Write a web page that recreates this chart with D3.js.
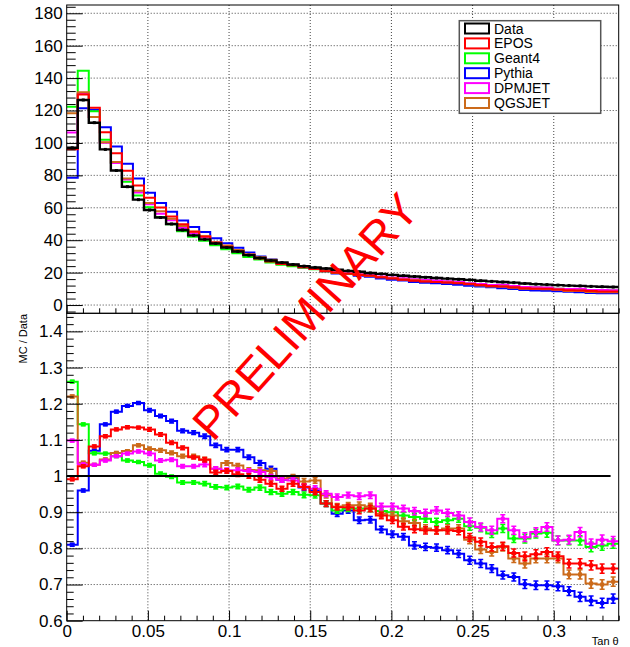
<!DOCTYPE html>
<html>
<head>
<meta charset="utf-8">
<script src="https://cdn.jsdelivr.net/npm/d3@7"></script>
<style>
  body { margin: 0; background: #fff; }
  svg { display: block; }
  text { font-family: "Liberation Sans", Arial, Helvetica, sans-serif; }
</style>
</head>
<body>
<div id="chart"></div>
<script>
// Binning: 50 bins between 0 and 0.34
const BIN_WIDTH = 0.0068;
const N_BINS = 50;

// Top panel: counts per bin
const dataTop = [97,126.5,112.5,96,83,73,65,58.6,54,50,46.3,43,40.5,38,35.5,33,30.8,29,27.5,26.2,25,24,23.2,22.5,21.8,21.1,20.5,19.8,19.2,18.6,18.1,17.6,17.1,16.7,16.3,15.9,15.5,15.0,14.6,14.2,13.8,13.3,12.9,12.6,12.3,12.0,11.8,11.5,11.3,11.1];
const eposTop = [96.1,129.9,121.7,106.6,93.7,82.9,73.7,66.2,60.2,54.6,49.9,45.2,42.3,38.4,36.0,33.2,30.8,28.7,26.9,25.3,24.5,23.3,22.2,20.8,19.9,19.3,18.6,18.0,17.1,16.3,15.6,15.0,14.5,14.2,13.9,13.5,12.9,12.3,11.7,11.4,10.9,10.3,10.1,10.0,9.6,9.1,8.9,8.7,8.4,8.3];
const geantTop = [122.3,144.6,119.6,102.0,87.6,76.1,67.5,60.4,54.3,49.9,45.5,42.2,39.6,36.9,34.4,32.0,29.6,28.1,26.3,24.9,23.9,22.8,22.0,20.8,19.7,19.2,18.7,18.0,17.3,16.7,16.1,15.6,15.1,14.6,14.3,14.0,13.3,12.9,12.3,12.1,11.4,11.0,10.8,10.6,10.1,9.9,9.7,9.2,9.1,9.0];
const pythiaTop = [78.6,121.4,120.4,109.7,97.8,87.2,78.1,69.3,63.0,57.6,52.1,48.2,45.0,41.2,38.1,35.4,32.4,30.0,28.1,25.9,24.9,23.2,22.3,20.8,19.5,19.1,18.0,17.4,16.4,15.6,15.1,14.2,13.7,13.4,13.0,12.5,11.9,11.4,10.9,10.3,9.9,9.3,9.0,8.8,8.5,8.2,7.9,7.5,7.3,7.3];
const dpmjetTop = [106.5,130.5,116.0,100.1,87.6,77.5,69.4,62.2,56.3,52.3,47.6,44.2,41.8,38.8,36.1,33.5,31.2,29.3,27.4,25.9,24.7,23.3,22.4,21.4,20.5,20.0,19.4,18.8,17.6,17.0,16.5,15.9,15.4,15.1,14.6,14.2,13.5,12.9,12.4,12.5,11.7,11.1,10.9,10.8,10.1,9.9,10.0,9.3,9.3,9.1];
const qgsjetTop = [118.3,131.2,116.0,100.4,88.3,78.0,70.5,63.0,57.8,53.2,48.8,45.4,42.4,38.8,36.8,34.0,31.3,29.5,27.9,26.0,24.9,23.6,22.9,21.3,20.0,19.4,18.8,18.1,17.2,16.6,15.8,15.3,14.6,14.2,13.9,13.6,12.8,12.0,11.5,11.4,10.7,10.1,10.0,9.7,9.5,8.7,8.6,8.1,7.9,7.9];

// Bottom panel: MC / Data
const eposRatio = [0.991,1.027,1.082,1.11,1.129,1.135,1.134,1.129,1.115,1.092,1.078,1.052,1.045,1.01,1.014,1.005,1.0,0.99,0.979,0.965,0.979,0.97,0.956,0.924,0.914,0.914,0.905,0.91,0.891,0.878,0.86,0.853,0.85,0.85,0.85,0.848,0.83,0.818,0.804,0.806,0.787,0.778,0.784,0.79,0.778,0.758,0.758,0.753,0.744,0.744];
const geantRatio = [1.261,1.143,1.063,1.062,1.055,1.043,1.039,1.03,1.006,0.998,0.982,0.982,0.979,0.97,0.968,0.971,0.962,0.968,0.956,0.951,0.956,0.948,0.947,0.924,0.905,0.91,0.91,0.91,0.903,0.9,0.891,0.887,0.882,0.873,0.878,0.882,0.861,0.857,0.841,0.855,0.827,0.827,0.841,0.843,0.822,0.822,0.822,0.804,0.808,0.813];
const pythiaRatio = [0.81,0.96,1.07,1.143,1.178,1.194,1.202,1.182,1.166,1.152,1.125,1.12,1.11,1.085,1.073,1.073,1.052,1.036,1.02,0.99,0.995,0.968,0.96,0.924,0.896,0.905,0.878,0.879,0.852,0.839,0.832,0.808,0.804,0.802,0.795,0.785,0.767,0.758,0.744,0.726,0.721,0.701,0.698,0.698,0.695,0.682,0.666,0.655,0.649,0.661];
const dpmjetRatio = [1.098,1.032,1.031,1.043,1.055,1.062,1.068,1.062,1.043,1.045,1.027,1.027,1.032,1.02,1.016,1.016,1.014,1.011,0.997,0.99,0.988,0.971,0.965,0.951,0.942,0.947,0.944,0.947,0.916,0.916,0.91,0.903,0.898,0.905,0.898,0.891,0.873,0.859,0.85,0.882,0.85,0.831,0.845,0.859,0.822,0.824,0.845,0.813,0.824,0.82];
const qgsjetRatio = [1.22,1.037,1.031,1.046,1.064,1.069,1.085,1.075,1.071,1.064,1.055,1.055,1.046,1.02,1.036,1.029,1.017,1.016,1.014,0.993,0.997,0.985,0.988,0.947,0.916,0.919,0.919,0.916,0.896,0.891,0.875,0.87,0.855,0.85,0.855,0.855,0.824,0.797,0.79,0.804,0.772,0.758,0.772,0.772,0.772,0.728,0.728,0.703,0.7,0.708];
const ratioErr = [0.004,0.004,0.004,0.004,0.004,0.004,0.004,0.005,0.005,0.005,0.005,0.005,0.006,0.006,0.006,0.006,0.006,0.007,0.007,0.007,0.007,0.008,0.008,0.008,0.008,0.008,0.009,0.009,0.009,0.009,0.009,0.010,0.010,0.010,0.010,0.010,0.011,0.011,0.011,0.011,0.011,0.012,0.012,0.012,0.012,0.012,0.013,0.013,0.013,0.013];

// Tick labels
const topYTicks = [0,20,40,60,80,100,120,140,160,180];
const ratioYTicks = [0.6,0.7,0.8,0.9,1.0,1.1,1.2,1.3,1.4];
const xTicks = [0,0.05,0.1,0.15,0.2,0.25,0.3];

// Series (legend order)
const series = [
  { name: 'Data',   color: '#000000', top: dataTop,   ratio: null },
  { name: 'EPOS',   color: '#ff0000', top: eposTop,   ratio: eposRatio },
  { name: 'Geant4', color: '#00ff00', top: geantTop,  ratio: geantRatio },
  { name: 'Pythia', color: '#0000ff', top: pythiaTop, ratio: pythiaRatio },
  { name: 'DPMJET', color: '#ff00ff', top: dpmjetTop, ratio: dpmjetRatio },
  { name: 'QGSJET', color: '#cc6a1a', top: qgsjetTop, ratio: qgsjetRatio }
];

const W = 630, H = 647;
const fLeft = 66.7, fRight = 618.7, fTop = 5, fMid = 313.3, fBottom = 620.7;

let svg = d3.select('#chart').append('svg')
  .attr('width', W).attr('height', H);

let x = d3.scaleLinear().domain([0, 0.34]).range([fLeft, fRight]);
let yTop = d3.scaleLinear().domain([-5.1, 185.1]).range([fMid, fTop]);
let yRat = d3.scaleLinear().domain([0.6, 1.45]).range([fBottom, fMid]);

let edges = d3.range(N_BINS + 1).map(function(i) { return i * BIN_WIDTH; });
let centers = d3.range(N_BINS).map(function(i) { return (i + 0.5) * BIN_WIDTH; });

// clip paths
let defs = svg.append('defs');
defs.append('clipPath').attr('id', 'clipTop').append('rect')
  .attr('x', fLeft).attr('y', fTop).attr('width', fRight - fLeft).attr('height', fMid - fTop);
defs.append('clipPath').attr('id', 'clipRat').append('rect')
  .attr('x', fLeft).attr('y', fMid).attr('width', fRight - fLeft).attr('height', fBottom - fMid);

// grids
function gridLines(g, y, yVals, y0, y1) {
  g.selectAll('.gy').data(yVals).enter().append('line')
    .attr('x1', fLeft).attr('x2', fRight)
    .attr('y1', function(d) { return y(d); }).attr('y2', function(d) { return y(d); })
    .attr('stroke', '#444').attr('stroke-width', 1).attr('stroke-dasharray', '1,2');
  g.selectAll('.gx').data(xTicks.filter(function(d) { return d > 0; })).enter().append('line')
    .attr('x1', function(d) { return x(d); }).attr('x2', function(d) { return x(d); })
    .attr('y1', y0).attr('y2', y1)
    .attr('stroke', '#444').attr('stroke-width', 1).attr('stroke-dasharray', '1,2');
}
gridLines(svg.append('g'), yTop, topYTicks, fTop, fMid);
gridLines(svg.append('g'), yRat, ratioYTicks.filter(function(d) { return d > 0.6 && d !== 1.0; }), fMid, fBottom);

// step line generator
function stepPath(y, vals) {
  let pts = vals.map(function(v, i) { return [edges[i], v]; });
  pts.push([edges[N_BINS], vals[N_BINS - 1]]);
  return d3.line()
    .x(function(d) { return x(d[0]); })
    .y(function(d) { return y(d[1]); })
    .curve(d3.curveStepAfter)(pts);
}

// Top panel histograms
let topG = svg.append('g').attr('clip-path', 'url(#clipTop)');
let topOrder = ['Pythia', 'Geant4', 'DPMJET', 'QGSJET', 'EPOS', 'Data'];
topOrder.forEach(function(name) {
  let s = series.find(function(d) { return d.name === name; });
  topG.append('path')
    .attr('d', stepPath(yTop, s.top))
    .attr('fill', 'none')
    .attr('stroke', s.color)
    .attr('stroke-width', name === 'Data' ? 2.4 : 2);
});
// data markers
topG.selectAll('.dm').data(dataTop).enter().append('rect')
  .attr('x', function(d, i) { return x(centers[i]) - 1.5; })
  .attr('y', function(d) { return yTop(d) - 1.5; })
  .attr('width', 3).attr('height', 3)
  .attr('fill', '#000');

// Bottom panel ratios
let ratG = svg.append('g').attr('clip-path', 'url(#clipRat)');
let ratOrder = ['Pythia', 'Geant4', 'QGSJET', 'DPMJET', 'EPOS'];
ratOrder.forEach(function(name) {
  let s = series.find(function(d) { return d.name === name; });
  let g = ratG.append('g');
  g.append('path')
    .attr('d', stepPath(yRat, s.ratio))
    .attr('fill', 'none')
    .attr('stroke', s.color)
    .attr('stroke-width', 2);
  let eb = g.selectAll('.eb').data(s.ratio).enter().append('g');
  eb.append('line')
    .attr('x1', function(d, i) { return x(centers[i]); })
    .attr('x2', function(d, i) { return x(centers[i]); })
    .attr('y1', function(d, i) { return yRat(d - ratioErr[i]); })
    .attr('y2', function(d, i) { return yRat(d + ratioErr[i]); })
    .attr('stroke', s.color).attr('stroke-width', 2);
  [-1, 1].forEach(function(sign) {
    eb.append('line')
      .attr('x1', function(d, i) { return x(centers[i]) - 2.5; })
      .attr('x2', function(d, i) { return x(centers[i]) + 2.5; })
      .attr('y1', function(d, i) { return yRat(d + sign * ratioErr[i]); })
      .attr('y2', function(d, i) { return yRat(d + sign * ratioErr[i]); })
      .attr('stroke', s.color).attr('stroke-width', 1.5);
  });
  eb.append('rect')
    .attr('x', function(d, i) { return x(centers[i]) - 2; })
    .attr('y', function(d) { return yRat(d) - 2; })
    .attr('width', 4).attr('height', 4)
    .attr('fill', s.color);
});

// unity line
svg.append('line')
  .attr('x1', x(0)).attr('x2', x(0.335))
  .attr('y1', yRat(1)).attr('y2', yRat(1))
  .attr('stroke', '#000').attr('stroke-width', 2);

// frames
svg.append('rect').attr('x', fLeft).attr('y', fTop).attr('width', fRight - fLeft).attr('height', fMid - fTop)
  .attr('fill', 'none').attr('stroke', '#000').attr('stroke-width', 1);
svg.append('rect').attr('x', fLeft).attr('y', fMid).attr('width', fRight - fLeft).attr('height', fBottom - fMid)
  .attr('fill', 'none').attr('stroke', '#000').attr('stroke-width', 1);

// axes
function minorVals(lo, hi, step, majors) {
  let out = [];
  for (let v = lo; v <= hi + 1e-9; v += step) {
    let r = Math.round(v * 1000) / 1000;
    if (!majors.some(function(m) { return Math.abs(m - r) < 1e-6; })) out.push(r);
  }
  return out;
}
function styleAxis(g) {
  g.select('.domain').remove();
  g.selectAll('line').attr('stroke', '#000');
  g.selectAll('text').attr('fill', '#000').style('font-size', '17px');
}

// top y
svg.append('g').attr('transform', 'translate(' + fLeft + ',0)')
  .call(d3.axisLeft(yTop).tickValues(topYTicks).tickSize(-16).tickPadding(4).tickFormat(d3.format('d')))
  .call(styleAxis);
svg.append('g').attr('transform', 'translate(' + fLeft + ',0)')
  .call(d3.axisLeft(yTop).tickValues(minorVals(-4, 184, 4, topYTicks)).tickSize(-9).tickFormat(''))
  .call(styleAxis);

// bottom y
svg.append('g').attr('transform', 'translate(' + fLeft + ',0)')
  .call(d3.axisLeft(yRat).tickValues(ratioYTicks).tickSize(-16).tickPadding(4)
    .tickFormat(function(d) { return String(Math.round(d * 10) / 10); }))
  .call(styleAxis);
svg.append('g').attr('transform', 'translate(' + fLeft + ',0)')
  .call(d3.axisLeft(yRat).tickValues(minorVals(0.62, 1.44, 0.02, ratioYTicks)).tickSize(-7).tickFormat(''))
  .call(styleAxis);

// x axes
let xMinor = minorVals(0.01, 0.34, 0.01, xTicks);
svg.append('g').attr('transform', 'translate(0,' + fMid + ')')
  .call(d3.axisBottom(x).tickValues(xTicks).tickSize(-8).tickFormat(''))
  .call(styleAxis);
svg.append('g').attr('transform', 'translate(0,' + fMid + ')')
  .call(d3.axisBottom(x).tickValues(xMinor).tickSize(-5).tickFormat(''))
  .call(styleAxis);
svg.append('g').attr('transform', 'translate(0,' + fBottom + ')')
  .call(d3.axisBottom(x).tickValues(xTicks).tickSize(-10).tickPadding(4)
    .tickFormat(function(d) { return String(+d.toFixed(2)); }))
  .call(styleAxis);
svg.append('g').attr('transform', 'translate(0,' + fBottom + ')')
  .call(d3.axisBottom(x).tickValues(xMinor).tickSize(-5).tickFormat(''))
  .call(styleAxis);

// axis titles
svg.append('text')
  .attr('transform', 'translate(26.5,314) rotate(-90)')
  .attr('text-anchor', 'end')
  .style('font-size', '11px')
  .text('MC / Data');
svg.append('text')
  .attr('x', fRight).attr('y', 645)
  .attr('text-anchor', 'end')
  .style('font-size', '11px')
  .text('Tan θ');

// legend
let leg = svg.append('g');
leg.append('rect')
  .attr('x', 459.3).attr('y', 20.7).attr('width', 141.4).attr('height', 92.6)
  .attr('fill', '#fff').attr('stroke', '#555').attr('stroke-width', 1.5);
series.forEach(function(s, i) {
  let cy = 28.5 + i * 14.9;
  leg.append('rect')
    .attr('x', 465).attr('y', cy - 5).attr('width', 24).attr('height', 10)
    .attr('fill', '#fff').attr('stroke', s.color).attr('stroke-width', 2);
  leg.append('text')
    .attr('x', 494).attr('y', cy + 5)
    .style('font-size', '14px')
    .text(s.name);
});

// watermark
svg.append('text')
  .attr('transform', 'translate(305,316) rotate(-48)')
  .attr('text-anchor', 'middle')
  .attr('dy', '0.36em')
  .attr('fill', '#ff0000')
  .style('font-size', '46px')
  .text('PRELIMINARY');
</script>
</body>
</html>
